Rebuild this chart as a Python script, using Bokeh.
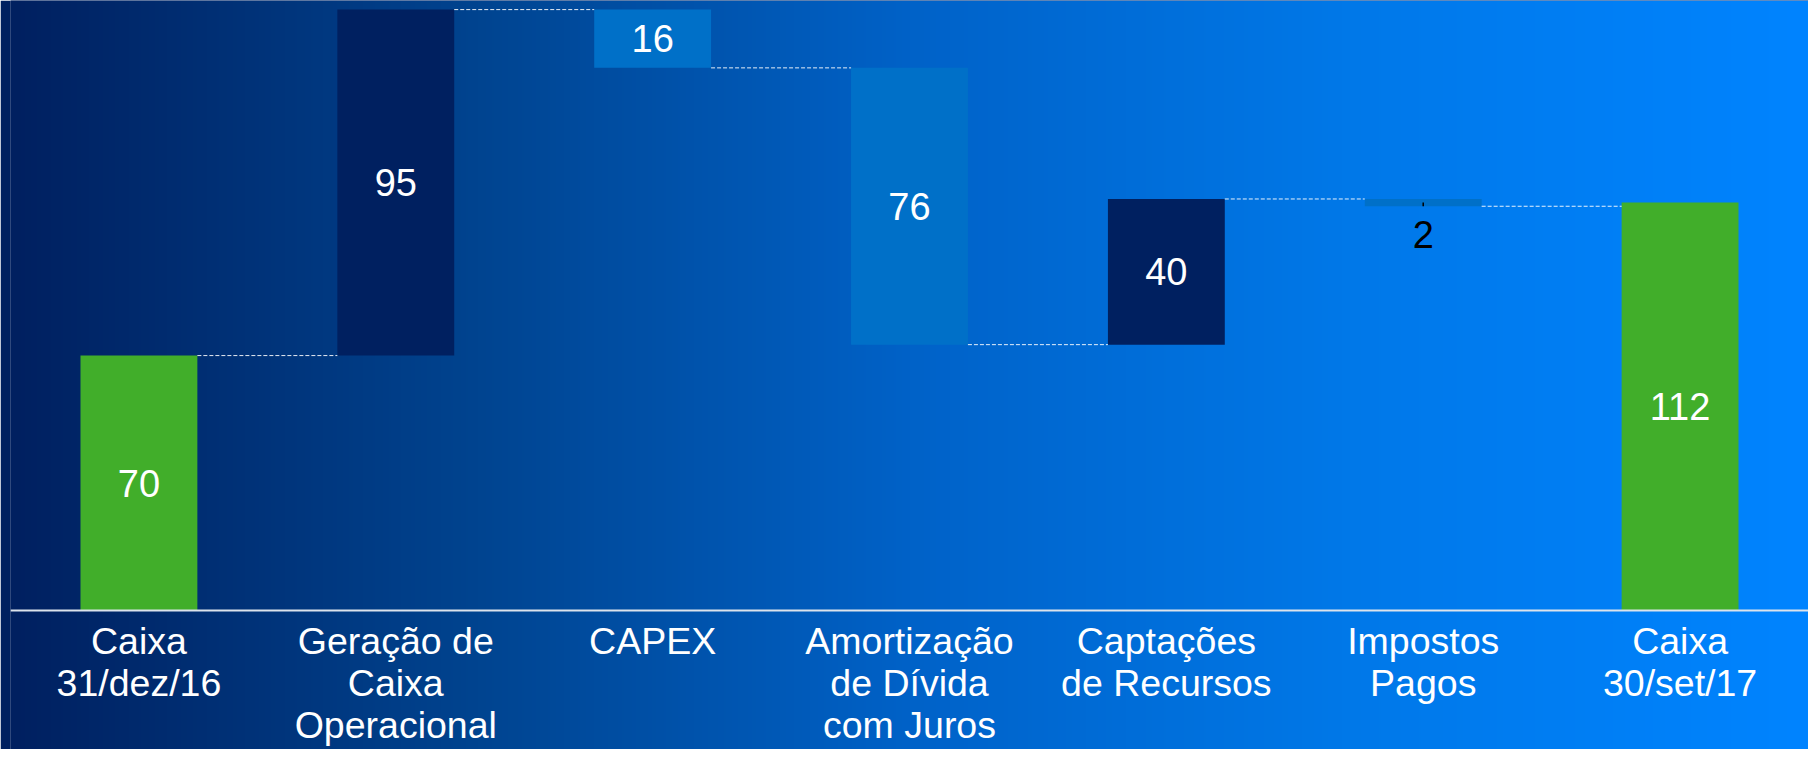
import numpy as np
from bokeh.plotting import figure
from bokeh.models import FactorRange, Range1d, ColumnDataSource, CategoricalAxis
from bokeh.transform import dodge
from bokeh.core.properties import value
from bokeh.embed import file_html
from bokeh.resources import INLINE

# ---------------- data ----------------
categories = [
    "Caixa\n31/dez/16",
    "Geração de\nCaixa\nOperacional",
    "CAPEX",
    "Amortização\nde Dívida\ncom Juros",
    "Captações\nde Recursos",
    "Impostos\nPagos",
    "Caixa\n30/set/17",
]
start_cash = 70
changes = [95, -16, -76, 40, -2]
end_cash = 112
value_labels = ["70", "95", "16", "76", "40", "2", "112"]

# ---------------- styles ----------------
GREEN = "#41AE2A"
NAVY = "#002060"
MIDBLUE = "#0070C8"
FONT = "Liberation Sans"
BAR_W = 0.455

# waterfall geometry from data
bottoms, tops, colors, levels = [0], [start_cash], [GREEN], [start_cash]
running = start_cash
for c in changes:
    new = running + c
    bottoms.append(min(running, new))
    tops.append(max(running, new))
    colors.append(NAVY if c > 0 else MIDBLUE)
    running = new
    levels.append(running)
bottoms.append(0)
tops.append(end_cash)
colors.append(GREEN)

W, H = 1808, 749
y0, y1 = -38.17, 167.5

p = figure(
    width=W, height=H,
    x_range=FactorRange(*categories, range_padding=0),
    y_range=Range1d(y0, y1),
    output_backend="svg", toolbar_location=None,
    x_axis_location=None, y_axis_location=None,
    min_border=0, min_border_left=10,
)
p.outline_line_color = None
p.grid.visible = False
p.background_fill_color = NAVY
p.border_fill_color = NAVY

# gradient background (style only)
stops_pos = [0.0, 0.26, 0.5, 0.74, 1.0]
stops_rgb = [(0, 32, 96), (0, 68, 144), (0, 98, 200), (0, 120, 232), (0, 132, 255)]
ncol = 900
t = np.linspace(0, 1, ncol)
rgba = np.zeros((1, ncol, 4), dtype=np.uint8)
for k in range(3):
    rgba[0, :, k] = np.interp(t, stops_pos, [s[k] for s in stops_rgb]).astype(np.uint8)
rgba[0, :, 3] = 255
img = rgba.view(dtype=np.uint32).reshape((1, ncol))
p.image_rgba(image=[img], x=0, y=y0, dw=len(categories), dh=y1 - y0)

# bars
src = ColumnDataSource(dict(cat=categories, bottom=bottoms, top=tops, color=colors))
p.vbar(x="cat", bottom="bottom", top="top", width=BAR_W, source=src,
       fill_color="color", line_color=None)

# connectors
csrc = ColumnDataSource(dict(a=categories[:-1], b=categories[1:], y=levels))
p.segment(x0=dodge("a", BAR_W / 2, range=p.x_range), y0="y",
          x1=dodge("b", -BAR_W / 2, range=p.x_range), y1="y",
          source=csrc, line_color="white", line_alpha=0.9,
          line_width=1, line_dash="4 2")

# labels inside bars
inside = [i for i in range(len(categories)) if tops[i] - bottoms[i] >= 10]
outside = [i for i in range(len(categories)) if tops[i] - bottoms[i] < 10]
isrc = ColumnDataSource(dict(
    cat=[categories[i] for i in inside],
    y=[(tops[i] + bottoms[i]) / 2 for i in inside],
    label=[value_labels[i] for i in inside],
))
p.text(x="cat", y="y", text="label", source=isrc, text_align="center",
       text_baseline="middle", text_color="white",
       text_font=value(FONT), text_font_size="38px")

osrc = ColumnDataSource(dict(
    cat=[categories[i] for i in outside],
    mid=[(tops[i] + bottoms[i]) / 2 for i in outside],
    y=[bottoms[i] for i in outside],
    label=[value_labels[i] for i in outside],
))
p.segment(x0="cat", y0="mid", x1="cat", y1="y", source=osrc,
          line_color="black", line_width=1.5)
p.text(x="cat", y="y", text="label", source=osrc, text_align="center",
       text_baseline="middle", text_color="black", y_offset=28,
       text_font=value(FONT), text_font_size="38px")

# category axis sitting at zero
ax = CategoricalAxis(fixed_location=0)
ax.axis_line_color = "#DCE3EC"
ax.axis_line_width = 2
ax.major_tick_line_color = None
ax.minor_tick_line_color = None
ax.major_label_standoff = 4
ax.major_label_text_font = FONT
ax.major_label_text_font_size = "37.5px"
ax.major_label_text_color = "white"
ax.major_label_text_line_height = 0.99
p.add_layout(ax, "below")

open("out.html", "w").write(file_html(p, INLINE))
